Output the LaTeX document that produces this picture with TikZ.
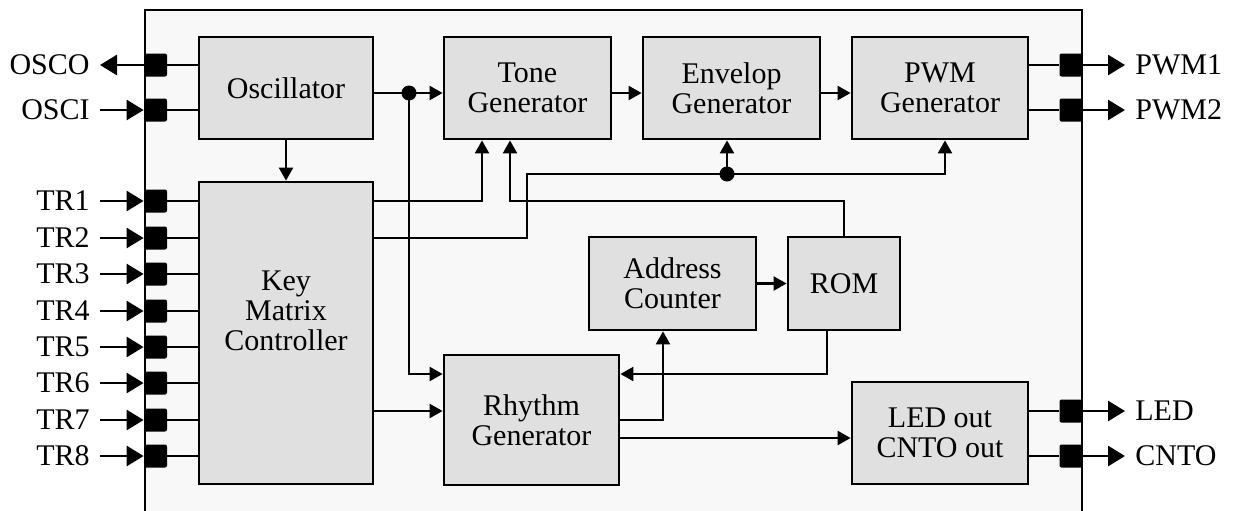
\documentclass[tikz,border=0pt]{standalone}
\usepackage{fontspec}
\setmainfont{Liberation Serif}
\usetikzlibrary{arrows.meta,calc}
\definecolor{chipfill}{HTML}{F8F8F8}
\definecolor{boxfill}{HTML}{E0E0E0}
\begin{document}
\begin{tikzpicture}[x=0.5pt,y=-0.5pt,
  every node/.style={font=\fontsize{15pt}{15pt}\selectfont},
  blk/.style={draw,line width=1.4pt,fill=boxfill,align=center,inner sep=0pt},
  pad/.style={fill=black,minimum width=11.5pt,minimum height=11.5pt,inner sep=0pt,rounded corners=1pt},
  lbl/.style={inner sep=5pt},
  wire/.style={line width=1.1pt},
  arr/.style={wire,-{Triangle[length=6.5pt,width=7pt]}},
  bigarr/.style={line width=1.4pt,-{Triangle[length=8.5pt,width=10pt]}},
  dot/.style={circle,fill=black,inner sep=0pt,minimum size=7.5pt}]
\useasboundingbox (0,0) rectangle (1235,510);
% chip
\fill[chipfill] (145,10) rectangle (1082,512);
\draw[line width=1.4pt] (145,515) -- (145,10) -- (1082,10) -- (1082,515);
% blocks
\node[blk,minimum width=87pt,minimum height=51pt] (osc) at (286,88) {Oscillator};
\node[blk,minimum width=83.5pt,minimum height=51pt] (tone) at (527.5,88) {Tone\\Generator};
\node[blk,minimum width=88.5pt,minimum height=51pt] (env) at (731.5,88) {Envelop\\Generator};
\node[blk,minimum width=88pt,minimum height=51pt] (pwm) at (940,88) {PWM\\Generator};
\node[blk,minimum width=87pt,minimum height=151pt] (key) at (286,333) {};
\node[align=center,inner sep=0pt] (keytxt) at (286,311) {Key\\Matrix\\Controller};
\node[blk,minimum width=83.5pt,minimum height=46.5pt] (addr) at (672.5,283.5) {Address\\Counter};
\node[blk,minimum width=56pt,minimum height=46.5pt] (rom) at (844,283.5) {ROM};
\node[blk,minimum width=87.5pt,minimum height=65pt] (rhy) at (531.5,420) {Rhythm\\Generator};
\node[blk,minimum width=88pt,minimum height=51pt] (led) at (940,433) {LED out\\CNTO out};
% left pads
\node[pad] (pOSCO) at (155.5,65) {};
\node[pad] (pOSCI) at (155.5,110) {};
\node[lbl,anchor=east] (lOSCO) at (100,65) {OSCO};
\node[lbl,anchor=east] (lOSCI) at (100,110) {OSCI};
\draw[bigarr] (pOSCO) -- (lOSCO);
\draw[bigarr] (lOSCI) -- (pOSCI);
\draw[wire] (pOSCO) -- (pOSCO -| osc.west);
\draw[wire] (pOSCI) -- (pOSCI -| osc.west);
\foreach \i/\y in {1/201,2/238,3/274,4/311,5/347,6/383,7/420,8/456}{
  \node[pad] (pTR\i) at (155.5,\y) {};
  \node[lbl,anchor=east] (lTR\i) at (100,\y) {TR\i};
  \draw[bigarr] (lTR\i) -- (pTR\i);
  \draw[wire] (pTR\i) -- (pTR\i -| key.west);
}
% right pads
\node[pad] (pPWM1) at (1071,65) {};
\node[pad] (pPWM2) at (1071,110) {};
\node[pad] (pLED) at (1071,411) {};
\node[pad] (pCNTO) at (1071,456) {};
\node[lbl,anchor=west] (lPWM1) at (1125,65) {PWM1};
\node[lbl,anchor=west] (lPWM2) at (1125,110) {PWM2};
\node[lbl,anchor=west] (lLED) at (1125,411) {LED};
\node[lbl,anchor=west] (lCNTO) at (1125,456) {CNTO};
\draw[wire] (pPWM1 -| pwm.east) -- (pPWM1);
\draw[wire] (pPWM2 -| pwm.east) -- (pPWM2);
\draw[wire] (pLED -| led.east) -- (pLED);
\draw[wire] (pCNTO -| led.east) -- (pCNTO);
\draw[bigarr] (pPWM1) -- (lPWM1);
\draw[bigarr] (pPWM2) -- (lPWM2);
\draw[bigarr] (pLED) -- (lLED);
\draw[bigarr] (pCNTO) -- (lCNTO);
% internal connectors
\coordinate (j) at (409,93);
\draw[wire] (osc.east |- j) -- (j);
\draw[arr] (j) -- (tone.west |- j);
\draw[arr] (tone.east |- j) -- (env.west |- j);
\draw[arr] (env.east |- j) -- (pwm.west |- j);
\draw[arr] (osc.south) -- (key.north);
\coordinate (r1) at (444,374);
\draw[arr] (j) |- (rhy.west |- r1);
\node[dot] (jdot) at (j) {};
% key -> tone
\coordinate (kt) at (482,201);
\draw[arr] (key.east |- kt) -- (kt) -- (tone.south -| kt);
% rom -> tone
\coordinate (rt) at (510,201);
\draw[arr] (rom.north) |- (rt) -- (tone.south -| rt);
% key -> env / pwm
\coordinate (ke1) at (527,238);
\coordinate (e) at (727,174);
\coordinate (pw) at (945,174);
\draw[arr] (key.east |- ke1) -- (ke1) |- (pw) -- (pwm.south -| pw);
\draw[arr] (e) -- (env.south -| e);
\node[dot] (edot) at (e) {};
% address -> rom
\draw[arr] (addr.east) -- (rom.west);
% rom -> rhythm
\coordinate (rr) at (827,374);
\draw[arr] (rom.south -| rr) -- (rr) -- (rhy.east |- rr);
% rhythm -> address
\coordinate (ra) at (663,420);
\draw[arr] (rhy.east |- ra) -- (ra) -- (addr.south -| ra);
% rhythm -> led
\coordinate (rl) at (700,438);
\draw[arr] (rhy.east |- rl) -- (led.west |- rl);
% key -> rhythm
\coordinate (kr) at (400,411);
\draw[arr] (key.east |- kr) -- (rhy.west |- kr);
\end{tikzpicture}
\end{document}
